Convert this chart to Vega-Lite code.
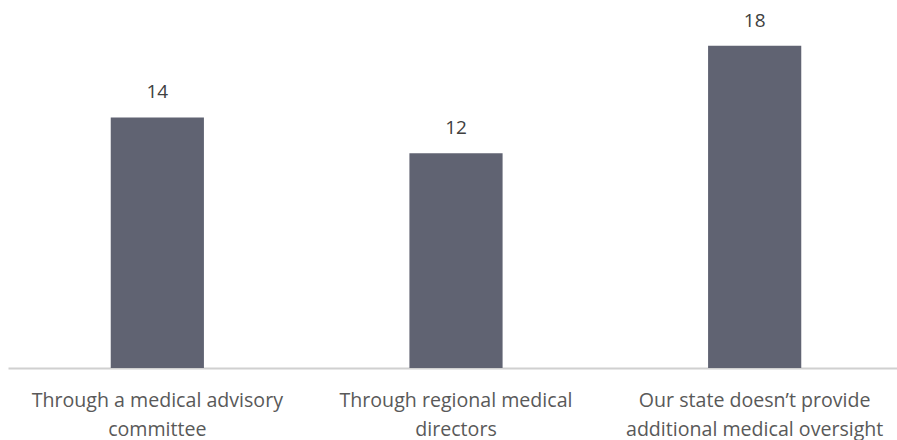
{
  "$schema": "https://vega.github.io/schema/vega-lite/v6.json",
  "width": 896,
  "height": 358,
  "autosize": {"type": "none"},
  "padding": {"left": 8, "top": 10, "right": 0, "bottom": 72},
  "background": "white",
  "config": {"view": {"stroke": null}, "font": "Open Sans"},
  "data": {
    "values": [
      {"category": "Through a medical advisory committee", "value": 14},
      {"category": "Through regional medical directors", "value": 12},
      {"category": "Our state doesn’t provide additional medical oversight", "value": 18}
    ]
  },
  "encoding": {
    "x": {
      "field": "category",
      "type": "nominal",
      "sort": null,
      "scale": {"paddingInner": 0, "paddingOuter": 0},
      "axis": {
        "title": null,
        "ticks": false,
        "labelAngle": 0,
        "labelFont": "Open Sans",
        "labelFontSize": 19.6,
        "labelColor": "#595959",
        "labelBaseline": "alphabetic",
        "labelPadding": 38,
        "labelLineHeight": 29,
        "labelLimit": 400,
        "domainColor": "#d0d0d0",
        "domainWidth": 1.8,
        "labelExpr": "datum.value == 'Through a medical advisory committee' ? ['Through a medical advisory', 'committee'] : datum.value == 'Through regional medical directors' ? ['Through regional medical', 'directors'] : ['Our state doesn’t provide', 'additional medical oversight']"
      }
    },
    "y": {
      "field": "value",
      "type": "quantitative",
      "scale": {"domain": [0, 20], "nice": false},
      "axis": null
    }
  },
  "layer": [
    {
      "mark": {"type": "bar", "color": "#606372", "width": {"band": 0.312}}
    },
    {
      "mark": {
        "type": "text",
        "baseline": "alphabetic",
        "dy": -19,
        "font": "Open Sans",
        "fontSize": 19,
        "color": "#404040"
      },
      "encoding": {"text": {"field": "value", "type": "quantitative"}}
    }
  ]
}
